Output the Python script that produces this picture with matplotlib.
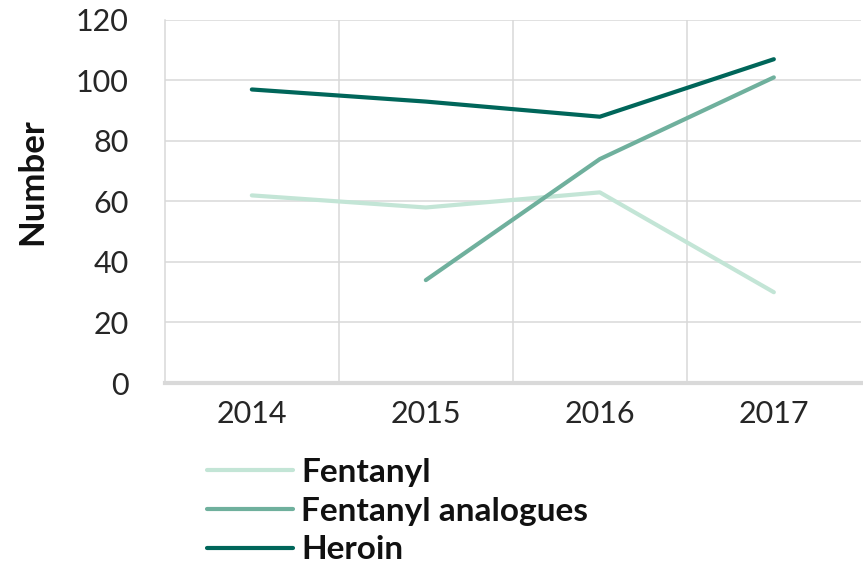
import numpy as np
import matplotlib
matplotlib.use("Agg")
import matplotlib.pyplot as plt
from matplotlib.ticker import FixedLocator

years = ["2014", "2015", "2016", "2017"]
fentanyl = [62, 58, 63, 30]
analogues = [np.nan, 34, 74, 101]
heroin = [97, 93, 88, 107]
y_ticks = [0, 20, 40, 60, 80, 100, 120]

plt.rcParams['font.family'] = ['Lato', 'DejaVu Sans']

fig = plt.figure(figsize=(8.63, 5.63), dpi=100)
ax = fig.add_axes([0.191, 0.3197, 0.8065, 0.645])

x = np.arange(len(years))
grid_col = '#d9d9d9'

ax.plot(x, fentanyl, color='#c3e5d6', lw=3, label='Fentanyl', solid_capstyle='round')
ax.plot(x, analogues, color='#6fb09d', lw=3, label='Fentanyl analogues', solid_capstyle='round')
ax.plot(x, heroin, color='#00665a', lw=3, label='Heroin', solid_capstyle='round')

ax.set_xlim(-0.5, 3.5)
ax.set_ylim(0, 120)
ax.set_xticks(x)
ax.set_xticklabels(years)
ax.set_yticks(y_ticks)
ax.xaxis.set_minor_locator(FixedLocator([0.5, 1.5, 2.5]))
ax.grid(axis='y', which='major', color=grid_col, lw=1.1)
ax.grid(axis='x', which='minor', color=grid_col, lw=1.1)
ax.set_axisbelow(True)
ax.tick_params(which='both', length=0, labelsize=22, colors='#262626')
ax.tick_params(axis='x', pad=12)
ax.tick_params(axis='y', pad=26)

for s in ['top', 'right']:
    ax.spines[s].set_visible(False)
ax.spines['left'].set_color(grid_col)
ax.spines['left'].set_linewidth(1.1)
ax.spines['bottom'].set_color(grid_col)
ax.spines['bottom'].set_linewidth(3)

ax.set_ylabel('Number', fontsize=25, fontweight='bold', color='#111111')
ax.yaxis.set_label_coords(-0.168, 0.554)

# legend stacked under the axis, no frame
leg = fig.legend(loc='upper left', bbox_to_anchor=(0.22, 0.216), frameon=False,
                 prop={'size': 24, 'weight': 'bold'}, handlelength=2.6,
                 handletextpad=0.24, labelspacing=0.29, borderpad=0)
for t in leg.get_texts():
    t.set_color('#111111')

fig.savefig('out.png', dpi=100)
